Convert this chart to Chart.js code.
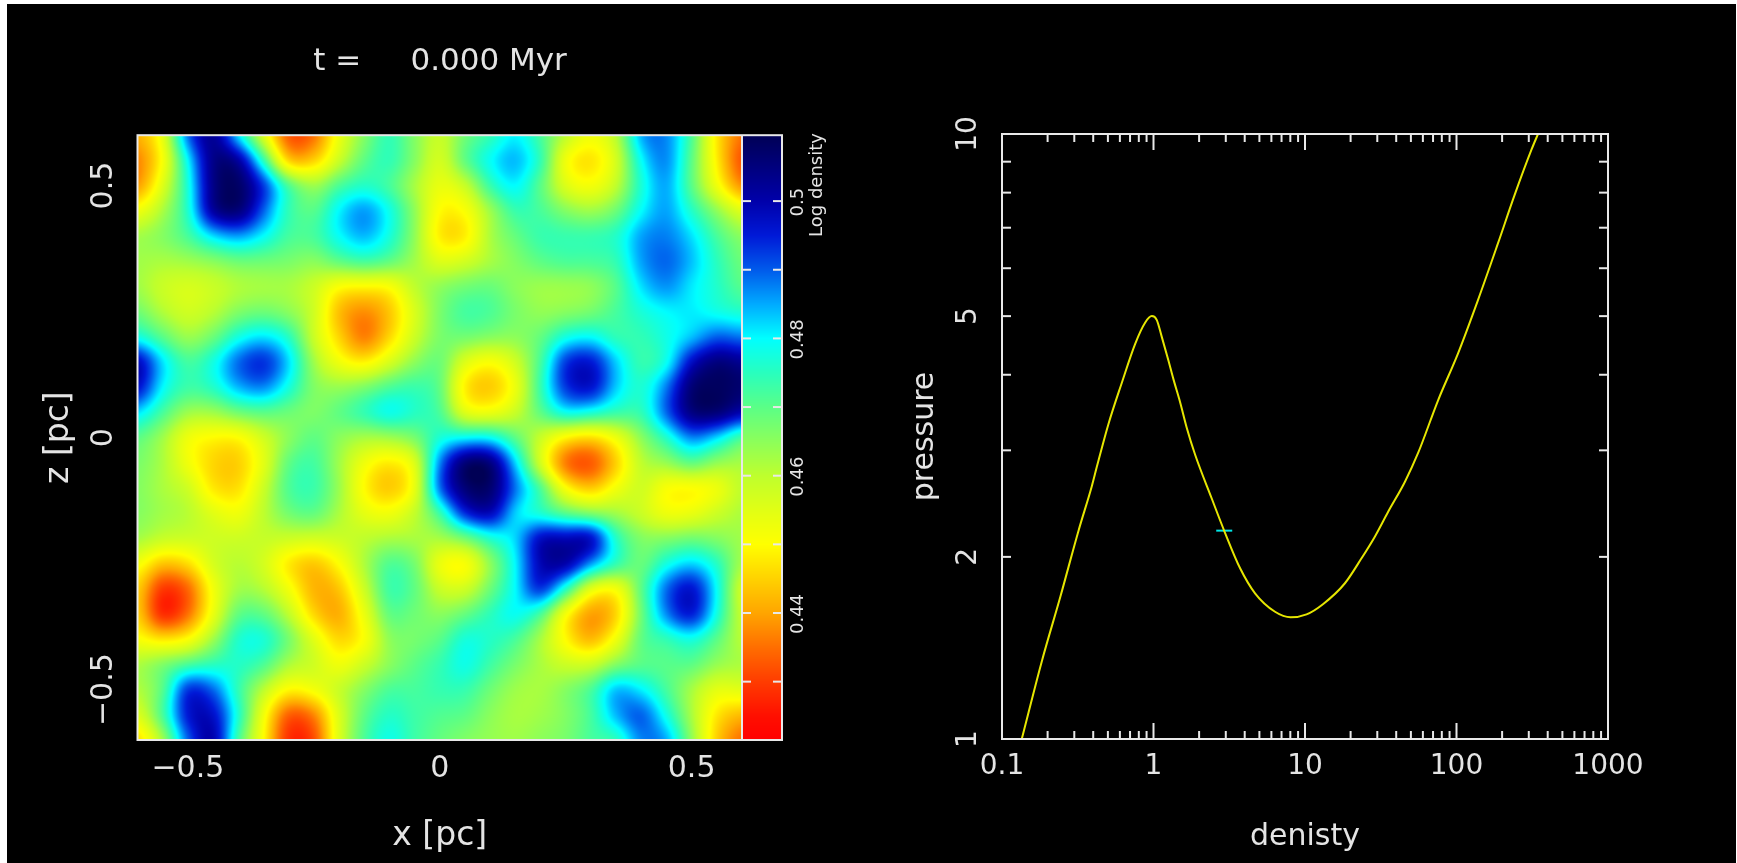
<!DOCTYPE html>
<html>
<head>
<meta charset="utf-8">
<title>t = 0.000 Myr</title>
<script src="https://cdn.jsdelivr.net/npm/chart.js@4"></script>
<style>
  html, body { margin: 0; padding: 0; background: #fff; overflow: hidden; }
  #page { position: relative; width: 1737px; height: 863px; }
  #black { position: absolute; left: 7px; top: 4px; width: 1729px; height: 859px; background: #000; }
  #mapBox { position: absolute; left: 0; top: 0; width: 880px; height: 863px; }
  #eosBox { position: absolute; left: 880px; top: 0; width: 857px; height: 863px; }
</style>
</head>
<body>
<div id="page">
  <div id="black"></div>
  <div id="mapBox"><canvas id="mapChart"></canvas></div>
  <div id="eosBox"><canvas id="eosChart"></canvas></div>
</div>
<script>
// --- left panel: log density, in units of 0.001, top row first ---
const densityRows = [
  [441,453,490,504,481,455,431,434,453,466,475,466,458,468,474,481,472,460,452,460,486,488,472,447,435],
  [436,450,480,505,503,475,443,444,458,470,475,466,456,470,480,485,475,451,446,456,480,488,470,448,431],
  [438,455,477,505,509,494,472,463,472,476,472,462,453,458,474,481,470,455,451,459,477,486,470,452,437],
  [452,462,476,503,507,490,474,470,481,487,479,465,449,450,463,474,472,466,463,468,480,486,476,465,455],
  [463,466,472,482,486,480,472,472,480,485,478,465,447,447,462,469,474,474,474,476,486,488,482,472,465],
  [463,462,463,465,468,468,467,465,470,473,470,463,455,457,462,466,470,472,472,474,486,490,484,475,468],
  [463,458,456,458,461,462,462,458,450,449,450,460,465,468,469,465,463,463,464,470,482,487,481,476,470],
  [468,461,457,460,466,468,465,458,442,437,443,456,467,473,472,467,464,465,467,472,477,480,481,478,476],
  [478,470,463,468,478,482,476,458,445,435,445,458,467,468,466,465,469,478,480,474,474,478,483,490,488],
  [500,482,472,478,490,495,483,463,452,448,456,465,469,455,450,457,472,494,497,483,473,478,498,506,503],
  [498,480,473,476,485,488,478,466,464,467,472,474,470,447,443,452,474,494,498,483,476,488,507,509,507],
  [482,472,463,463,468,470,468,466,470,475,480,476,472,454,452,458,470,480,478,474,474,490,506,507,500],
  [470,463,452,449,449,457,465,470,465,462,463,467,477,480,480,470,458,448,445,452,465,476,488,482,471],
  [467,462,452,445,444,454,470,473,463,452,447,454,488,508,507,483,456,434,431,444,460,464,470,464,462],
  [466,462,458,447,446,458,472,474,464,449,443,452,490,507,508,489,472,450,443,452,458,450,449,452,460],
  [466,463,461,455,452,460,468,470,462,454,452,459,473,495,500,482,476,470,466,463,458,452,453,458,462],
  [463,459,458,458,458,459,458,457,458,460,462,462,462,467,476,482,499,500,500,476,466,466,468,466,463],
  [452,443,446,457,461,457,447,443,450,462,472,468,452,449,464,480,500,502,487,475,468,478,483,476,462],
  [445,428,433,452,463,461,452,441,443,458,474,470,458,457,468,480,495,476,453,450,470,490,498,480,456],
  [445,426,434,453,470,470,460,445,440,453,470,468,465,469,475,480,472,450,438,444,468,488,497,478,458],
  [451,447,450,463,477,478,468,455,445,450,465,467,470,478,476,472,462,449,441,452,470,474,478,470,460],
  [462,467,472,475,476,472,462,458,452,458,465,470,474,479,473,467,462,458,458,466,470,470,470,464,462],
  [461,470,495,490,474,460,449,452,459,466,472,472,474,474,468,463,462,466,472,485,481,472,462,454,455],
  [455,472,497,498,477,452,432,436,456,470,476,473,471,470,465,462,463,466,472,485,491,478,462,447,442],
  [445,462,490,502,472,450,427,430,456,472,479,473,469,466,464,463,465,467,472,474,488,486,465,444,434]
];
const mapTicks = [-0.5, 0, 0.5];
const barTicks = [0.43, 0.44, 0.45, 0.46, 0.47, 0.48, 0.49, 0.5];
const barLabels = { 0.44: "0.44", 0.46: "0.46", 0.48: "0.48", 0.5: "0.5" };

// --- right panel: the curve and the current state ---
const curveDensity = [0.135,0.184,0.243,0.321,0.392,0.423,0.505,0.618,0.757,0.882,0.975,1.05,1.134,1.256,1.355,1.5,1.657,1.883,2.42,2.97,3.73,4.68,6.34,8.04,10.24,13.2,18.35,23.6,28.9,35.4,45.6,55.8,75.6,102.4,138.8,188,242,312,345];
const curvePressure = [1.0,1.35,1.72,2.216,2.62,2.82,3.32,3.88,4.5,4.88,5.0,4.93,4.62,4.22,3.93,3.6,3.27,2.95,2.5,2.19,1.915,1.741,1.623,1.589,1.607,1.672,1.809,1.989,2.16,2.375,2.66,2.97,3.63,4.34,5.32,6.6,7.93,9.41,10];
const currentDensity = [2.93];
const currentPressure = [2.21];
const densityDecades = [0.1, 1, 10, 100, 1000];
const pressureTicks = [1, 2, 3, 4, 5, 6, 7, 8, 9, 10];
const pressureLabels = [1, 2, 5, 10];

// colour table taken from the colour bar: value, r, g, b
const colorTable = [
  [0.4215, 255, 0, 0], [0.425, 255, 15, 0], [0.43, 255, 60, 0], [0.435, 255, 110, 0],
  [0.44, 255, 165, 0], [0.445, 255, 210, 0], [0.45, 255, 255, 0], [0.455, 225, 255, 20],
  [0.46, 190, 255, 45], [0.465, 140, 255, 90], [0.47, 90, 255, 135], [0.475, 40, 255, 190],
  [0.48, 0, 255, 255], [0.485, 0, 170, 255], [0.49, 0, 90, 235], [0.495, 0, 25, 215],
  [0.5, 0, 0, 170], [0.505, 0, 0, 125], [0.5096, 0, 0, 85]
];

const FONT = "'DejaVu Sans', sans-serif";
const TEXT = "#e4e4e4";
const LINE = "#e8e8e8";

function colorFor(v) {
  if (v <= colorTable[0][0]) return colorTable[0].slice(1);
  for (let i = 1; i < colorTable.length; i++) {
    const a = colorTable[i - 1], b = colorTable[i];
    if (v <= b[0]) {
      const f = (v - a[0]) / (b[0] - a[0]);
      return [a[1] + (b[1] - a[1]) * f, a[2] + (b[2] - a[2]) * f, a[3] + (b[3] - a[3]) * f];
    }
  }
  return colorTable[colorTable.length - 1].slice(1);
}

// Mitchell filter weights, B = C = 1/3
function mitchell(d) {
  const x = Math.abs(d);
  if (x < 1) return (7 * x * x * x - 12 * x * x + 16 / 3) / 6;
  if (x < 2) return (-7 / 3 * x * x * x + 12 * x * x - 20 * x + 32 / 3) / 6;
  return 0;
}

// only smooths the drawing between the cells, the same way the original image is smooth
function sampleDensity(col, row) {
  const last = densityRows.length - 1;
  const c = Math.floor(col), r = Math.floor(row);
  let sum = 0;
  for (let j = -1; j <= 2; j++) {
    const wy = mitchell(row - (r + j));
    const cells = densityRows[Math.max(0, Math.min(last, r + j))];
    for (let i = -1; i <= 2; i++) {
      sum += wy * mitchell(col - (c + i)) * cells[Math.max(0, Math.min(last, c + i))];
    }
  }
  return sum / 1000;
}

function drawRotated(ctx, text, x, y, font) {
  ctx.save();
  ctx.translate(x, y);
  ctx.rotate(-Math.PI / 2);
  ctx.font = font;
  ctx.fillStyle = TEXT;
  ctx.textAlign = "center";
  ctx.textBaseline = "middle";
  ctx.fillText(text, 0, 0);
  ctx.restore();
}

function hLine(ctx, x1, x2, y) {
  ctx.beginPath();
  ctx.moveTo(x1, y);
  ctx.lineTo(x2, y);
  ctx.stroke();
}

function vLine(ctx, x, y1, y2) {
  ctx.beginPath();
  ctx.moveTo(x, y1);
  ctx.lineTo(x, y2);
  ctx.stroke();
}

// density image and colour bar
const mapPlugin = {
  id: "mapPlugin",
  beforeDatasetsDraw(chart) {
    const { ctx, chartArea: a, scales } = chart;
    const w = Math.round(a.right - a.left), h = Math.round(a.bottom - a.top);
    const off = document.createElement("canvas");
    off.width = w;
    off.height = h;
    const octx = off.getContext("2d");
    const img = octx.createImageData(w, h);
    const n = densityRows.length - 1;
    for (let py = 0; py < h; py++) {
      const row = (0.6 - scales.y.getValueForPixel(a.top + py + 0.5)) / 1.2 * n;
      for (let px = 0; px < w; px++) {
        const col = (scales.x.getValueForPixel(a.left + px + 0.5) + 0.6) / 1.2 * n;
        const c = colorFor(sampleDensity(col, row));
        const k = (py * w + px) * 4;
        img.data[k] = c[0];
        img.data[k + 1] = c[1];
        img.data[k + 2] = c[2];
        img.data[k + 3] = 255;
      }
    }
    octx.putImageData(img, 0, 0);
    ctx.drawImage(off, a.left, a.top);

    // colour bar, one band per pixel row
    const bar = scales.yBar;
    const barLeft = a.right, barRight = a.right + 40;
    for (let py = Math.floor(a.top); py < a.bottom; py++) {
      const c = colorFor(bar.getValueForPixel(py + 0.5));
      ctx.fillStyle = `rgb(${c[0]},${c[1]},${c[2]})`;
      ctx.fillRect(barLeft, py, barRight - barLeft, 1);
    }
  },
  afterDatasetsDraw(chart) {
    const { ctx, chartArea: a, scales } = chart;
    const barRight = a.right + 40;
    ctx.save();
    ctx.strokeStyle = LINE;
    ctx.lineWidth = 2;
    ctx.strokeRect(a.left, a.top, barRight - a.left, a.bottom - a.top);
    vLine(ctx, a.right, a.top, a.bottom);
    scales.yBar.ticks.forEach((t) => {
      const y = scales.yBar.getPixelForValue(t.value);
      hLine(ctx, a.right, a.right + 9, y);
      hLine(ctx, barRight - 9, barRight, y);
      const label = barLabels[t.value];
      if (label) drawRotated(ctx, label, a.right + 56, y + 1, `18px ${FONT}`);
    });
    drawRotated(ctx, "Log density", a.right + 75, 185, `18px ${FONT}`);
    scales.y.ticks.forEach((t) => {
      drawRotated(ctx, String(t.value).replace("-", "\u2212"), a.left - 33, scales.y.getPixelForValue(t.value), `30px ${FONT}`);
    });
    ctx.restore();
  }
};

// pgplot style frame, ticks on the inside of all four sides
const framePlugin = {
  id: "framePlugin",
  afterDatasetsDraw(chart) {
    const { ctx, chartArea: a, scales } = chart;
    ctx.save();
    ctx.strokeStyle = LINE;
    ctx.lineWidth = 2;
    ctx.strokeRect(a.left, a.top, a.right - a.left, a.bottom - a.top);
    densityDecades.forEach((d, i) => {
      const major = scales.x.getPixelForValue(d);
      vLine(ctx, major, a.bottom, a.bottom - 16);
      vLine(ctx, major, a.top, a.top + 16);
      if (i === densityDecades.length - 1) return;
      for (let m = 2; m <= 9; m++) {
        const x = scales.x.getPixelForValue(d * m);
        vLine(ctx, x, a.bottom, a.bottom - 8);
        vLine(ctx, x, a.top, a.top + 8);
      }
    });
    pressureTicks.forEach((p) => {
      const y = scales.y.getPixelForValue(p);
      hLine(ctx, a.left, a.left + 9, y);
      hLine(ctx, a.right - 9, a.right, y);
    });
    pressureLabels.forEach((p) => {
      drawRotated(ctx, String(p), a.left - 33, scales.y.getPixelForValue(p), `28px ${FONT}`);
    });
    ctx.restore();
  }
};

function buildMapChart() {
  const cells = [];
  densityRows.forEach((row, j) => {
    row.forEach((v, i) => {
      cells.push({ x: -0.6 + 1.2 * i / (row.length - 1), y: 0.6 - 1.2 * j / (densityRows.length - 1), v: v / 1000 });
    });
  });
  new Chart(document.getElementById("mapChart"), {
    type: "scatter",
    data: { datasets: [{ label: "Log density", data: cells, pointRadius: 0, pointHoverRadius: 0 }] },
    plugins: [mapPlugin],
    options: {
      responsive: true,
      maintainAspectRatio: false,
      animation: false,
      events: [],
      layout: { padding: 0 },
      plugins: {
        legend: { display: false },
        tooltip: { enabled: false },
        title: {
          display: true,
          text: "t =     0.000 Myr",
          color: TEXT,
          font: { family: FONT, size: 31, weight: "normal" },
          padding: { top: 43, bottom: 55 }
        }
      },
      scales: {
        x: {
          type: "linear",
          min: -0.6,
          max: 0.6,
          grid: { display: false, drawTicks: false },
          border: { display: false },
          afterBuildTicks: (s) => { s.ticks = mapTicks.map((value) => ({ value })); },
          afterFit: (s) => { s.height = 123; },
          ticks: {
            color: TEXT,
            padding: 11,
            maxRotation: 0,
            font: { family: FONT, size: 30 },
            callback: (v) => String(v).replace("-", "\u2212")
          },
          title: {
            display: true,
            text: "x [pc]",
            color: TEXT,
            font: { family: FONT, size: 33 },
            padding: { top: 1, bottom: 7 }
          }
        },
        y: {
          type: "linear",
          min: -0.6,
          max: 0.6,
          grid: { display: false, drawTicks: false },
          border: { display: false },
          afterBuildTicks: (s) => { s.ticks = mapTicks.map((value) => ({ value })); },
          afterFit: (s) => { s.width = 137.5; },
          ticks: { display: false },
          title: {
            display: true,
            text: "z [pc]",
            color: TEXT,
            font: { family: FONT, size: 33 },
            padding: { top: 40, bottom: 0 }
          }
        },
        yBar: {
          type: "linear",
          position: "right",
          min: 0.4215,
          max: 0.5096,
          grid: { display: false, drawTicks: false },
          border: { display: false },
          afterBuildTicks: (s) => { s.ticks = barTicks.map((value) => ({ value })); },
          afterFit: (s) => { s.width = 138; },
          ticks: { display: false }
        }
      }
    }
  });
}

function buildEosChart() {
  new Chart(document.getElementById("eosChart"), {
    type: "line",
    data: {
      datasets: [
        {
          label: "pressure",
          data: curveDensity.map((x, i) => ({ x, y: curvePressure[i] })),
          borderColor: "#e6e600",
          borderWidth: 2,
          cubicInterpolationMode: "monotone",
          pointRadius: 0
        },
        {
          label: "current",
          data: currentDensity.map((x, i) => ({ x, y: currentPressure[i] })),
          showLine: false,
          pointStyle: "line",
          pointRadius: 8,
          pointBorderColor: "#00e6e6",
          pointBorderWidth: 2
        }
      ]
    },
    plugins: [framePlugin],
    options: {
      responsive: true,
      maintainAspectRatio: false,
      animation: false,
      events: [],
      layout: { padding: { top: 134, right: 129 } },
      plugins: { legend: { display: false }, tooltip: { enabled: false } },
      scales: {
        x: {
          type: "logarithmic",
          min: 0.1,
          max: 1000,
          grid: { display: false, drawTicks: false },
          border: { display: false },
          afterBuildTicks: (s) => { s.ticks = densityDecades.map((value) => ({ value })); },
          afterFit: (s) => { s.height = 124; },
          ticks: {
            color: TEXT,
            padding: 11,
            maxRotation: 0,
            autoSkip: false,
            font: { family: FONT, size: 28 },
            callback: (v) => String(v)
          },
          title: {
            display: true,
            text: "denisty",
            color: TEXT,
            font: { family: FONT, size: 30 },
            padding: { top: 5, bottom: 8 }
          }
        },
        y: {
          type: "logarithmic",
          min: 1,
          max: 10,
          grid: { display: false, drawTicks: false },
          border: { display: false },
          afterFit: (s) => { s.width = 122; },
          ticks: { display: false },
          title: {
            display: true,
            text: "pressure",
            color: TEXT,
            font: { family: FONT, size: 30 },
            padding: { top: 27, bottom: 0 }
          }
        }
      }
    }
  });
}

buildMapChart();
buildEosChart();
</script>
</body>
</html>
